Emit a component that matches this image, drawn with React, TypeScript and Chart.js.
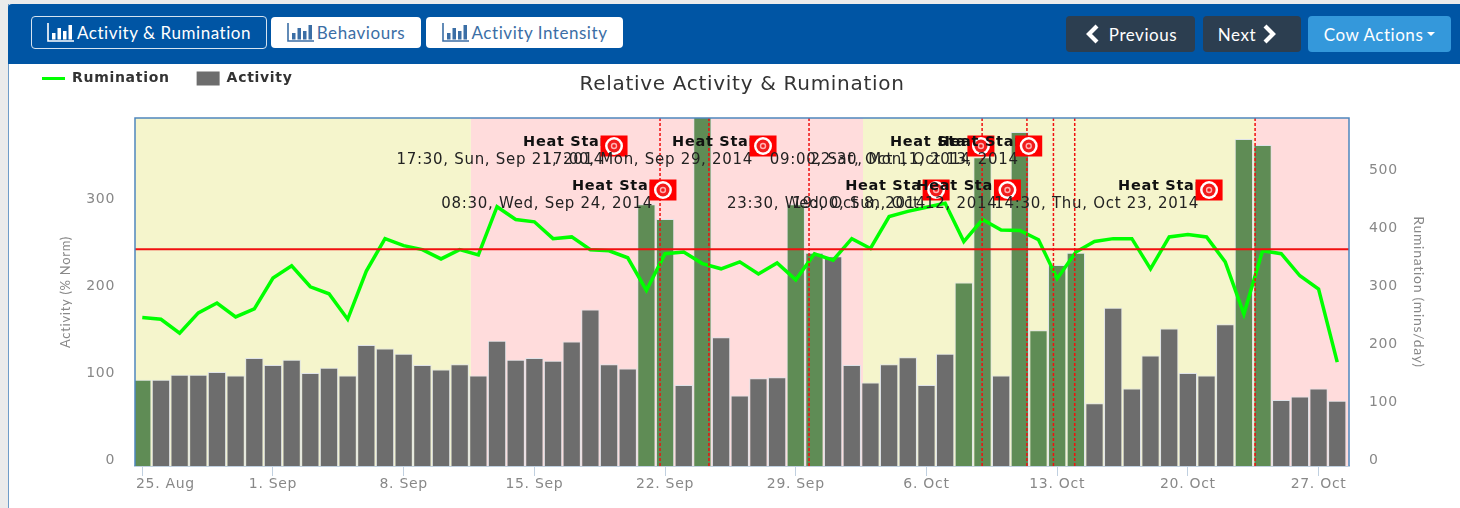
import React, { useEffect, useRef } from "react";
import { Chart, registerables } from "chart.js";

Chart.register(...registerables);

const dayLabels = ["25. Aug","26. Aug","27. Aug","28. Aug","29. Aug","30. Aug","31. Aug","1. Sep","2. Sep","3. Sep","4. Sep","5. Sep","6. Sep","7. Sep","8. Sep","9. Sep","10. Sep","11. Sep","12. Sep","13. Sep","14. Sep","15. Sep","16. Sep","17. Sep","18. Sep","19. Sep","20. Sep","21. Sep","22. Sep","23. Sep","24. Sep","25. Sep","26. Sep","27. Sep","28. Sep","29. Sep","30. Sep","1. Oct","2. Oct","3. Oct","4. Oct","5. Oct","6. Oct","7. Oct","8. Oct","9. Oct","10. Oct","11. Oct","12. Oct","13. Oct","14. Oct","15. Oct","16. Oct","17. Oct","18. Oct","19. Oct","20. Oct","21. Oct","22. Oct","23. Oct","24. Oct","25. Oct","26. Oct","27. Oct","28. Oct"];
const tickDays = [0, 7, 14, 21, 28, 35, 42, 49, 56, 63];
const tickLabels: Record<number, string> = { 0: "         25. Aug", 7: "1. Sep", 14: "8. Sep", 21: "15. Sep", 28: "22. Sep", 35: "29. Sep", 42: "6. Oct", 49: "13. Oct", 56: "20. Oct", 63: "27. Oct" };

const activity = [99,99,105,105,108,104,124,116,122,107,113,104,139,135,129,116,111,117,104,144,122,124,121,143,180,117,112,301,284,93,420,148,81,101,102,301,245,241,116,96,117,125,93,129,211,355,104,384,156,231,245,72,182,89,127,158,107,104,163,376,369,76,80,89,75];
const rumination = [256,253,229,264,281,257,271,324,345,309,297,253,336,392,380,373,357,373,364,447,425,421,392,395,373,371,359,303,366,369,349,340,352,331,350,321,366,355,392,375,430,439,446,453,387,425,407,406,390,323,369,387,392,392,340,395,399,395,352,262,371,366,328,305,179];
const greenDays = [0,27,28,30,35,36,44,45,47,48,49,50,59,60];
const thresholdActivity = 249;

const bandEdges = [-0.39, 17.6, 38.6, 59.6, 64.63];
const bandKinds = ["watch", "alert", "watch", "alert"];

const heatDays = [27.73, 30.35, 35.71, 44.98, 47.38, 48.8, 49.94, 59.6];
const heatDates = ["17:30, Sun, Sep 21, 2014","08:30, Wed, Sep 24, 2014","17:00, Mon, Sep 29, 2014","23:30, Wed, Oct 8, 2014","09:00, Sat, Oct 11, 2014","19:00, Sun, Oct 12, 2014","22:30, Mon, Oct 13, 2014","14:30, Thu, Oct 23, 2014"];
const heatRows = [0, 1, 0, 1, 0, 1, 0, 1];

const GREY = "#6d6d6d";
const GREEN = "#5f8c55";
const FONT = "'DejaVu Sans', sans-serif";

const spacingPlugin = {
  id: "spacing",
  beforeUpdate(chart: any) { chart.ctx.letterSpacing = "0.7px"; },
  beforeDraw(chart: any) { chart.ctx.letterSpacing = "0.7px"; },
};

const placementPlugin = {
  id: "placement",
  afterLayout(chart: any) {
    const l = chart.legend;
    const shiftL = 15 - l.left;
    l.left += shiftL; l.right += shiftL;
    const h = l.bottom - l.top;
    l.top = 44.5; l.bottom = 44.5 + h;
    const t = chart.titleBlock;
    const th = t.bottom - t.top;
    t.left = 135; t.right = 1349;
    t.top = 73; t.bottom = 73 + th;
  },
};

const bandPlugin = {
  id: "bands",
  beforeDatasetsDraw(chart: any) {
    const { ctx, chartArea: a, scales: { x } } = chart;
    ctx.save();
    bandKinds.forEach((k, i) => {
      const x0 = x.getPixelForValue(bandEdges[i]);
      const x1 = x.getPixelForValue(bandEdges[i + 1]);
      ctx.fillStyle = k === "watch" ? "#f5f5cc" : "#ffdcdc";
      ctx.fillRect(x0, a.top, x1 - x0, a.bottom - a.top);
    });
    ctx.restore();
  },
};

const overlayPlugin = {
  id: "overlay",
  afterDatasetsDraw(chart: any) {
    const { ctx, chartArea: a, scales: { x, y } } = chart;
    ctx.save();
    const ty = y.getPixelForValue(thresholdActivity);
    ctx.strokeStyle = "#f01010";
    ctx.lineWidth = 2;
    ctx.beginPath(); ctx.moveTo(a.left, ty); ctx.lineTo(a.right, ty); ctx.stroke();
    ctx.lineWidth = 1.5;
    ctx.setLineDash([3, 2]);
    heatDays.forEach((d) => {
      const px = x.getPixelForValue(d);
      ctx.beginPath(); ctx.moveTo(px, a.top); ctx.lineTo(px, a.bottom); ctx.stroke();
    });
    ctx.setLineDash([]);
    ctx.strokeStyle = "#4f86bd";
    ctx.lineWidth = 1.5;
    ctx.beginPath();
    ctx.moveTo(a.left, a.bottom); ctx.lineTo(a.left, a.top); ctx.lineTo(a.right, a.top); ctx.lineTo(a.right, a.bottom);
    ctx.stroke();
    heatDays.forEach((d, i) => {
      const px = x.getPixelForValue(d);
      const row = heatRows[i];
      const rowY = a.top + 22 + row * 44;
      ctx.textAlign = "right";
      ctx.textBaseline = "middle";
      ctx.fillStyle = "#222";
      ctx.font = `15px ${FONT}`;
      ctx.fillText(heatDates[i], px - 56, rowY + 20);
      ctx.fillStyle = "#111";
      ctx.font = `bold 14.5px ${FONT}`;
      ctx.fillText("Heat Start", px - 45, rowY + 2);
      const cx = px - 46, cy = rowY + 6;
      ctx.fillStyle = "#ff0000";
      ctx.fillRect(cx - 13.5, cy - 10.5, 27, 21);
      ctx.fillStyle = "#ffffff";
      ctx.beginPath(); ctx.arc(cx, cy, 9, 0, 2 * Math.PI); ctx.fill();
      ctx.fillStyle = "#f21c1c";
      ctx.beginPath(); ctx.arc(cx, cy, 6.5, 0, 2 * Math.PI); ctx.fill();
      ctx.fillStyle = "#ffb0b0";
      ctx.beginPath(); ctx.arc(cx, cy, 3.2, 0, 2 * Math.PI); ctx.fill();
      ctx.fillStyle = "#f21c1c";
      ctx.beginPath(); ctx.arc(cx, cy, 1.8, 0, 2 * Math.PI); ctx.fill();
    });
    ctx.restore();
  },
};

function BarIcon({ color }: { color: string }) {
  return (
    <svg width="27" height="19" viewBox="0 0 27 19" style={{ marginRight: 3, flex: "none" }}>
      <path d="M1 0V18H27" stroke={color} strokeWidth="1.6" fill="none" />
      <rect x="5" y="10" width="3.5" height="6.5" fill={color} />
      <rect x="10.5" y="5" width="3.5" height="11.5" fill={color} />
      <rect x="16" y="8" width="3.5" height="8.5" fill={color} />
      <rect x="21.5" y="2" width="3.5" height="14.5" fill={color} />
    </svg>
  );
}

function Chevron({ dir }: { dir: "l" | "r" }) {
  return (
    <svg width="17" height="20" viewBox="0 0 17 20" style={{ flex: "none" }}>
      <path d={dir === "l" ? "M13 2L5 10L13 18" : "M4 2L12 10L4 18"} stroke="#fff" strokeWidth="4.2" fill="none" />
    </svg>
  );
}

const btn = (left: number, top: number, width: number, height: number, extra: React.CSSProperties): React.CSSProperties => ({
  position: "absolute", left, top, width, height, boxSizing: "border-box", borderRadius: 4,
  display: "flex", alignItems: "center", justifyContent: "center",
  fontFamily: "Lato, sans-serif", fontSize: 17, letterSpacing: "0.55px", whiteSpace: "nowrap", ...extra,
});

export default function App() {
  const ref = useRef<HTMLCanvasElement | null>(null);

  useEffect(() => {
    if (!ref.current) return;
    const chart = new Chart(ref.current, {
      type: "bar",
      plugins: [spacingPlugin, placementPlugin, bandPlugin, overlayPlugin],
      data: {
        datasets: [
          {
            type: "line",
            label: "Rumination",
            data: rumination.map((v, i) => ({ x: i, y: v })),
            yAxisID: "y1",
            borderColor: "#00ff00",
            backgroundColor: "#00ff00",
            borderWidth: 3.5,
            pointRadius: 0,
            tension: 0,
            order: 0,
          },
          {
            type: "bar",
            label: "Activity",
            data: activity.map((v, i) => ({ x: i, y: v })),
            yAxisID: "y",
            backgroundColor: activity.map((_, i) => (greenDays.includes(i) ? GREEN : GREY)),
            borderColor: "#dfe3e8",
            borderWidth: 1,
            categoryPercentage: 1,
            barPercentage: 0.98,
            order: 1,
          },
        ] as any,
      },
      options: {
        animation: false,
        responsive: false,
        parsing: { xAxisKey: "x", yAxisKey: "y" } as any,
        layout: { padding: { top: 43, left: 0, right: 0, bottom: 0 } },
        plugins: {
          tooltip: { enabled: false },
          title: {
            display: true,
            text: "Relative Activity & Rumination",
            color: "#333333",
            font: { family: FONT, size: 20, weight: "normal" },
            padding: { top: 0, bottom: 0 },
          },
          legend: {
            display: true,
            position: "top",
            align: "start",
            labels: {
              usePointStyle: true,
              pointStyleWidth: 23,
              boxHeight: 14,
              padding: 27,
              color: "#333333",
              font: { family: FONT, size: 14, weight: "bold" },
              generateLabels(c: any) {
                const items = Chart.defaults.plugins.legend.labels.generateLabels(c);
                return items.map((it: any) =>
                  it.text === "Activity"
                    ? { ...it, pointStyle: "rect", fillStyle: GREY, strokeStyle: GREY, lineWidth: 0 }
                    : { ...it, pointStyle: "line", lineWidth: 3, strokeStyle: "#00ff00" }
                );
              },
            },
          },
        },
        scales: {
          x: {
            type: "linear",
            offset: false,
            min: -0.39,
            max: 64.63,
            afterBuildTicks(s: any) { s.ticks = tickDays.map((value) => ({ value })); },
            afterFit(s: any) { s.height = 42; },
            border: { color: "#c0d0e0", width: 2 },
            grid: { offset: false, drawOnChartArea: false, drawTicks: true, tickLength: 10, color: "#c0d0e0" },
            ticks: {
              autoSkip: false,
              maxRotation: 0,
              padding: 0,
              color: "#888888",
              font: { family: FONT, size: 14 },
              callback: (v: any) => tickLabels[v] ?? dayLabels[v],
            },
          },
          y: {
            position: "left",
            min: 0,
            max: 400,
            afterFit(s: any) { s.width = 135; },
            border: { display: false },
            grid: { display: false },
            title: { display: true, text: "Activity (% Norm)", color: "#888888", font: { family: "Lato, sans-serif", size: 13 }, padding: { top: 58, bottom: 0 } },
            ticks: {
              stepSize: 100,
              padding: 12,
              labelOffset: -6,
              color: "#888888",
              font: { family: FONT, size: 14 },
              callback: (v: any) => (v >= 400 ? "" : String(v)),
            },
          },
          y1: {
            position: "right",
            min: 0,
            max: 600,
            afterFit(s: any) { s.width = 111; },
            border: { display: false },
            grid: { display: false },
            title: { display: true, text: "Rumination (mins/day)", color: "#888888", font: { family: "Lato, sans-serif", size: 14 }, padding: { top: 33, bottom: 0 } },
            ticks: {
              stepSize: 100,
              padding: 12,
              labelOffset: -6,
              color: "#888888",
              font: { family: FONT, size: 14 },
              callback: (v: any) => (v >= 600 ? "" : String(v)),
            },
          },
        },
      } as any,
    });
    return () => chart.destroy();
  }, []);

  const blue = "#3b6ea5";
  return (
    <div style={{ position: "fixed", left: 0, top: 0, width: 1460, height: 508, overflow: "hidden", background: "#ebebeb" }}>
      <div style={{ position: "absolute", left: 8, top: 4, width: 1452, height: 504, background: "#ffffff", borderLeft: "1.5px solid #6f9cc8", boxSizing: "border-box" }} />
      <canvas ref={ref} width={1460} height={508} style={{ position: "absolute", left: 0, top: 0, display: "block" }} />
      <div style={{ position: "absolute", left: 8, top: 4, width: 1452, height: 60, background: "#0055a4", borderRadius: "4px 0 0 0" }} />
      <div style={btn(31, 16, 236, 33, { background: "#0055a4", border: "1px solid #d5e3f0", color: "#fff" })}><BarIcon color="#fff" />Activity &amp; Rumination</div>
      <div style={btn(271, 17, 150, 31, { background: "#fff", color: blue })}><BarIcon color={blue} />Behaviours</div>
      <div style={btn(426, 17, 197, 31, { background: "#fff", color: blue })}><BarIcon color={blue} />Activity Intensity</div>
      <div style={btn(1066, 16, 129, 36, { background: "#2c3e50", color: "#fff", gap: 8 })}><Chevron dir="l" />Previous</div>
      <div style={btn(1203, 16, 98, 36, { background: "#2c3e50", color: "#fff", gap: 5, paddingRight: 8 })}>Next<Chevron dir="r" /></div>
      <div style={btn(1308, 16, 143, 36, { background: "#3498db", color: "#fff", gap: 4 })}>Cow Actions<span style={{ width: 0, height: 0, borderLeft: "4px solid transparent", borderRight: "4px solid transparent", borderTop: "4px solid #fff" }} /></div>
    </div>
  );
}
